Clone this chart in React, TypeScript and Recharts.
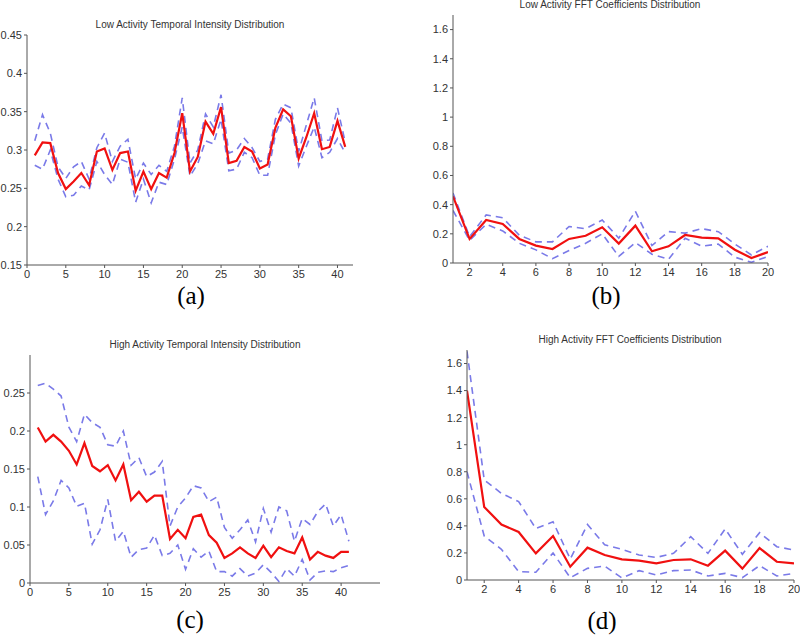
import React from 'react';
import { LineChart, Line, XAxis, YAxis } from 'recharts';

// ---------- data ----------
const temporalIdx = [1,2,3,4,5,6,7,8,9,10,11,12,13,14,15,16,17,18,19,20,21,22,23,24,25,26,27,28,29,30,31,32,33,34,35,36,37,38,39,40,41];
const fftIdx = [1,2,3,4,5,6,7,8,9,10,11,12,13,14,15,16,17,18,19,20];

const lowTempMean = [0.293,0.310,0.309,0.270,0.249,0.259,0.270,0.254,0.298,0.302,0.274,0.296,0.298,0.247,0.272,0.249,0.270,0.264,0.296,0.348,0.272,0.291,0.337,0.321,0.356,0.283,0.286,0.304,0.298,0.276,0.281,0.329,0.353,0.344,0.289,0.317,0.348,0.301,0.304,0.338,0.304];
const lowTempUpper = [0.312,0.346,0.322,0.278,0.263,0.278,0.285,0.262,0.303,0.322,0.285,0.305,0.314,0.262,0.283,0.268,0.280,0.272,0.305,0.368,0.283,0.300,0.347,0.330,0.372,0.296,0.300,0.315,0.303,0.285,0.288,0.340,0.360,0.355,0.298,0.333,0.368,0.312,0.313,0.355,0.310];
const lowTempLower = [0.280,0.275,0.300,0.262,0.239,0.241,0.253,0.248,0.285,0.268,0.255,0.288,0.284,0.232,0.262,0.231,0.258,0.255,0.288,0.330,0.266,0.282,0.312,0.308,0.340,0.273,0.275,0.297,0.290,0.267,0.267,0.320,0.347,0.335,0.279,0.305,0.330,0.290,0.297,0.315,0.296];

const lowFftMean = [0.457,0.165,0.295,0.267,0.165,0.119,0.096,0.165,0.187,0.245,0.133,0.256,0.080,0.114,0.192,0.174,0.169,0.091,0.034,0.075];
const lowFftUpper = [0.48,0.18,0.33,0.31,0.19,0.145,0.145,0.25,0.235,0.295,0.17,0.355,0.12,0.215,0.205,0.235,0.215,0.13,0.055,0.115];
const lowFftLower = [0.36,0.155,0.265,0.22,0.135,0.09,0.03,0.085,0.135,0.20,0.045,0.14,0.06,0.025,0.17,0.115,0.13,0.04,0.005,0.045];

const highTempMean = [0.2045,0.186,0.195,0.186,0.174,0.156,0.184,0.154,0.147,0.155,0.135,0.156,0.109,0.120,0.107,0.115,0.115,0.058,0.070,0.059,0.087,0.090,0.063,0.053,0.033,0.039,0.047,0.039,0.033,0.049,0.034,0.047,0.042,0.039,0.060,0.031,0.041,0.036,0.033,0.041,0.041];
const highTempUpper = [0.260,0.263,0.255,0.246,0.205,0.186,0.222,0.211,0.205,0.182,0.180,0.200,0.155,0.165,0.140,0.146,0.160,0.075,0.100,0.112,0.128,0.125,0.107,0.113,0.073,0.059,0.070,0.083,0.054,0.098,0.067,0.100,0.095,0.055,0.085,0.077,0.094,0.104,0.075,0.090,0.055];
const highTempLower = [0.140,0.090,0.108,0.135,0.125,0.101,0.105,0.051,0.070,0.110,0.055,0.068,0.034,0.044,0.046,0.063,0.036,0.039,0.050,0.018,0.045,0.034,0.042,0.015,0.015,0.009,0.019,0.009,0.013,0.024,0.014,0.002,0.019,0.009,0.031,0.004,0.014,0.016,0.015,0.020,0.023];

const highFftMean = [1.40,0.54,0.41,0.355,0.197,0.325,0.098,0.239,0.185,0.153,0.143,0.123,0.148,0.153,0.106,0.217,0.084,0.236,0.135,0.123];
const highFftUpper = [1.69,0.74,0.64,0.58,0.38,0.43,0.155,0.41,0.26,0.227,0.185,0.167,0.197,0.32,0.197,0.377,0.19,0.35,0.246,0.222];
const highFftLower = [0.80,0.325,0.227,0.062,0.057,0.20,0.017,0.086,0.103,0.015,0.069,0.037,0.069,0.074,0.03,0.049,0.017,0.106,0.03,0.049];

const temporalXTicks = [0,5,10,15,20,25,30,35,40];
const fftXTicks = [2,4,6,8,10,12,14,16,18,20];
const lowTempYTicks = [0.15,0.2,0.25,0.3,0.35,0.4,0.45];
const fftYTicks = [0,0.2,0.4,0.6,0.8,1,1.2,1.4,1.6];
const highTempYTicks = [0,0.05,0.1,0.15,0.2,0.25];

const titles = [
  'Low Activity Temporal Intensity Distribution',
  'Low Activity FFT Coefficients Distribution',
  'High Activity Temporal Intensity Distribution',
  'High Activity FFT Coefficients Distribution',
];
const captions = ['(a)', '(b)', '(c)', '(d)'];

const build = (xs: number[], m: number[], u: number[], l: number[]) =>
  xs.map((x, i) => ({ x, mean: m[i], upper: u[i], lower: l[i] }));

// ---------- styles ----------
const AXIS = '#555';
const tickStyle = { fill: '#333', fontSize: 11, fontFamily: '"Liberation Sans", Arial, sans-serif' };
const RED = '#f01010';
const BLUE = '#7a7ae8';

type PanelProps = {
  left: number; top: number; width: number; height: number;
  margin: { top: number; right: number; bottom: number; left: number };
  yWidth: number;
  xDomain: [number, number]; xTicks: number[];
  yDomain: [number, number]; yTicks: number[];
  data: any[];
};

const Panel = (p: PanelProps) => (
  <div style={{ position: 'absolute', left: p.left, top: p.top }}>
    <LineChart width={p.width} height={p.height} data={p.data} margin={p.margin}>
      <XAxis dataKey="x" type="number" domain={p.xDomain} ticks={p.xTicks} interval={0}
        allowDataOverflow height={25} stroke={AXIS} tickSize={3} tickMargin={2} tick={tickStyle} />
      <YAxis type="number" domain={p.yDomain} ticks={p.yTicks} interval={0}
        allowDataOverflow width={p.yWidth} stroke={AXIS} tickSize={3} tickMargin={2} tick={tickStyle} />
      <Line dataKey="upper" type="linear" stroke={BLUE} strokeWidth={1.6} strokeDasharray="7 5" dot={false} isAnimationActive={false} />
      <Line dataKey="lower" type="linear" stroke={BLUE} strokeWidth={1.6} strokeDasharray="7 5" dot={false} isAnimationActive={false} />
      <Line dataKey="mean" type="linear" stroke={RED} strokeWidth={2.2} dot={false} isAnimationActive={false} />
    </LineChart>
  </div>
);

const Title = ({ text, cx, cy }: { text: string; cx: number; cy: number }) => (
  <div style={{ position: 'absolute', left: cx - 150, top: cy - 6, width: 300, textAlign: 'center',
    fontFamily: '"Liberation Sans", Arial, sans-serif', fontSize: 10, lineHeight: '12px', color: '#333', whiteSpace: 'nowrap' }}>
    {text}
  </div>
);

const Caption = ({ text, cx, cy }: { text: string; cx: number; cy: number }) => (
  <div style={{ position: 'absolute', left: cx - 40, top: cy - 15, width: 80, textAlign: 'center',
    fontFamily: '"Liberation Serif", "Times New Roman", serif', fontSize: 25, lineHeight: '30px', color: '#000' }}>
    {text}
  </div>
);

export default function App() {
  return (
    <div style={{ position: 'absolute', left: 0, top: 0, width: 800, height: 642, background: '#fff', overflow: 'hidden' }}>
      <Panel left={0} top={0} width={370} height={290}
        margin={{ top: 35, right: 17, bottom: 0, left: 0 }} yWidth={27}
        xDomain={[0, 42]} xTicks={temporalXTicks} yDomain={[0.15, 0.45]} yTicks={lowTempYTicks}
        data={build(temporalIdx, lowTempMean, lowTempUpper, lowTempLower)} />
      <Panel left={400} top={0} width={400} height={290}
        margin={{ top: 15, right: 32, bottom: 2, left: 0 }} yWidth={53}
        xDomain={[1, 20]} xTicks={fftXTicks} yDomain={[0, 1.7]} yTicks={fftYTicks}
        data={build(fftIdx, lowFftMean, lowFftUpper, lowFftLower)} />
      <Panel left={0} top={320} width={400} height={300}
        margin={{ top: 35, right: 20, bottom: 12, left: 0 }} yWidth={30}
        xDomain={[0, 45]} xTicks={temporalXTicks} yDomain={[0, 0.3]} yTicks={highTempYTicks}
        data={build(temporalIdx, highTempMean, highTempUpper, highTempLower)} />
      <Panel left={400} top={320} width={400} height={300}
        margin={{ top: 30, right: 6, bottom: 15, left: 0 }} yWidth={67}
        xDomain={[1, 20]} xTicks={fftXTicks} yDomain={[0, 1.7]} yTicks={fftYTicks}
        data={build(fftIdx, highFftMean, highFftUpper, highFftLower)} />
      <Title text={titles[0]} cx={190} cy={25} />
      <Title text={titles[1]} cx={610} cy={5} />
      <Title text={titles[2]} cx={205} cy={345} />
      <Title text={titles[3]} cx={630} cy={340} />
      <Caption text={captions[0]} cx={191} cy={296} />
      <Caption text={captions[1]} cx={606} cy={296} />
      <Caption text={captions[2]} cx={190} cy={620} />
      <Caption text={captions[3]} cx={602} cy={621} />
    </div>
  );
}
